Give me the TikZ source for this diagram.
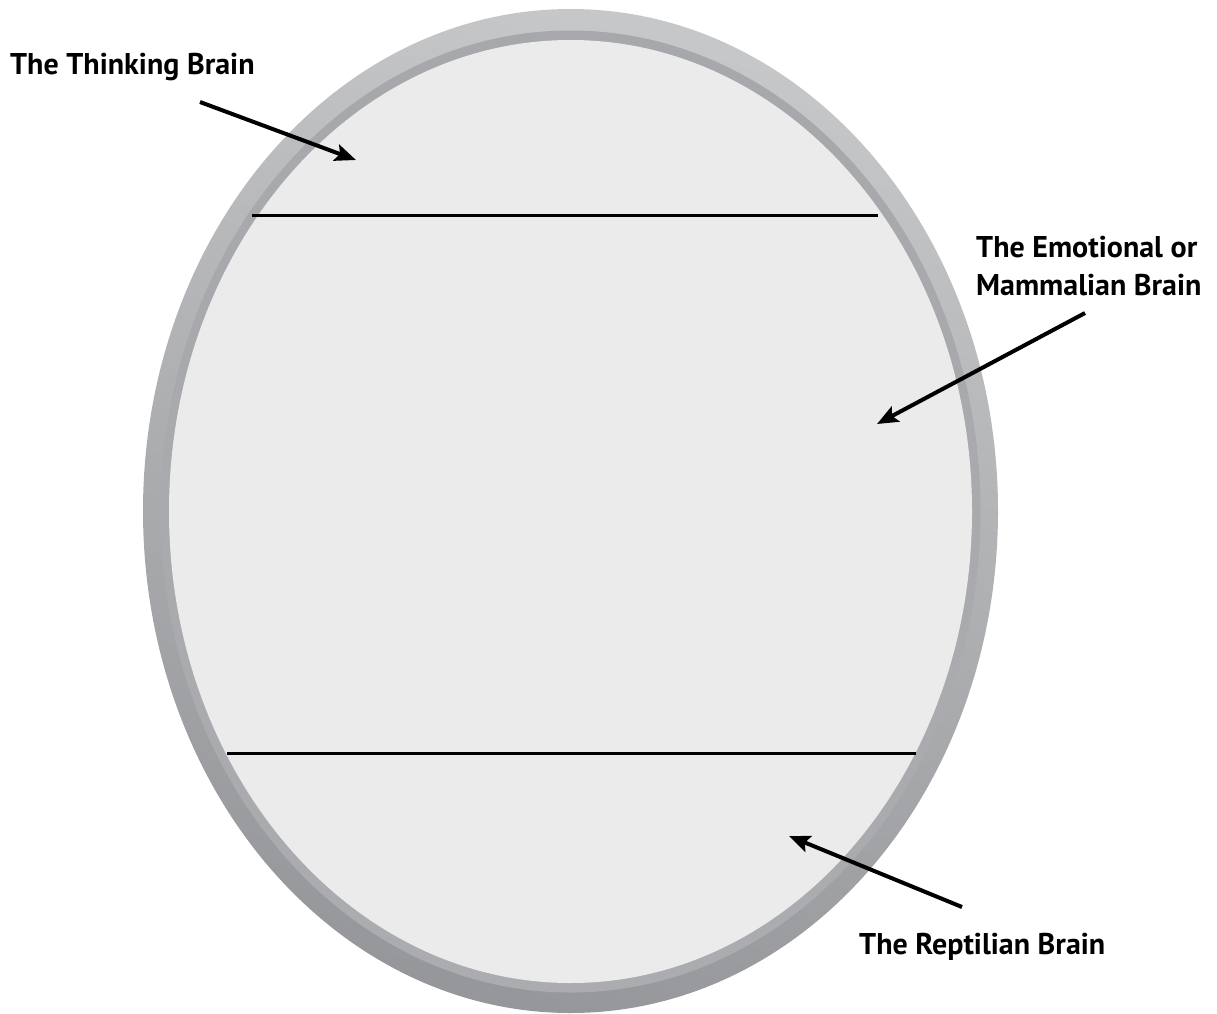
\documentclass[tikz,border=0pt]{standalone}
\usepackage{fontspec}
\setmainfont{PT Sans}
\usetikzlibrary{arrows.meta}
\definecolor{rimlight}{HTML}{C6C7C9}
\definecolor{rimdark}{HTML}{96979A}
\definecolor{bevtop}{HTML}{A7A8AB}
\definecolor{bevbot}{HTML}{ABACAF}
\definecolor{brainfill}{HTML}{EBEBEB}
\tikzset{
  label/.style={font=\fontsize{30}{38}\selectfont\bfseries, inner sep=0pt, align=left},
  divider/.style={line width=3pt, black},
  pointer/.style={line width=4pt, black, -{Stealth[length=21pt,width=17pt,inset=4pt]}},
}
\begin{document}
\begin{tikzpicture}[x=1pt,y=-1pt]
\useasboundingbox (0,0) rectangle (1217,1013);
\begin{scope}
\clip (0,0) rectangle (1217,1013);
% outer rim
\path[shading=axis, top color=rimlight, bottom color=rimdark, shading angle=-15]
  (570.5,511) ellipse [x radius=427.5, y radius=502];
% bevel band
\path[shading=axis, top color=bevtop, bottom color=bevbot]
  (570.5,511.5) ellipse [x radius=410, y radius=481];
% inner fill
\fill[brainfill] (570.5,511.5) ellipse [x radius=401.5, y radius=471.5];
\end{scope}
% dividers
\coordinate (t1) at (252,215);
\coordinate (t2) at (878,215);
\coordinate (b1) at (227,753);
\coordinate (b2) at (916,753);
\draw[divider] (t1) -- (t2);
\draw[divider] (b1) -- (b2);
% labels
\node[label, anchor=base west] (thinking) at (10,74) {The Thinking Brain};
\node[label, anchor=base west] (emotional) at (976,295) {The Emotional or\\Mammalian Brain};
\node[label, anchor=base west] (reptilian) at (859,954) {The Reptilian Brain};
% arrows
\coordinate (thinkS) at (200,102);
\coordinate (thinkT) at (356,160);
\coordinate (emoS) at (1085,313);
\coordinate (emoT) at (877,424);
\coordinate (repS) at (962,907);
\coordinate (repT) at (789,836);
\draw[pointer] (thinkS) -- (thinkT);
\draw[pointer] (emoS) -- (emoT);
\draw[pointer] (repS) -- (repT);
\end{tikzpicture}
\end{document}
